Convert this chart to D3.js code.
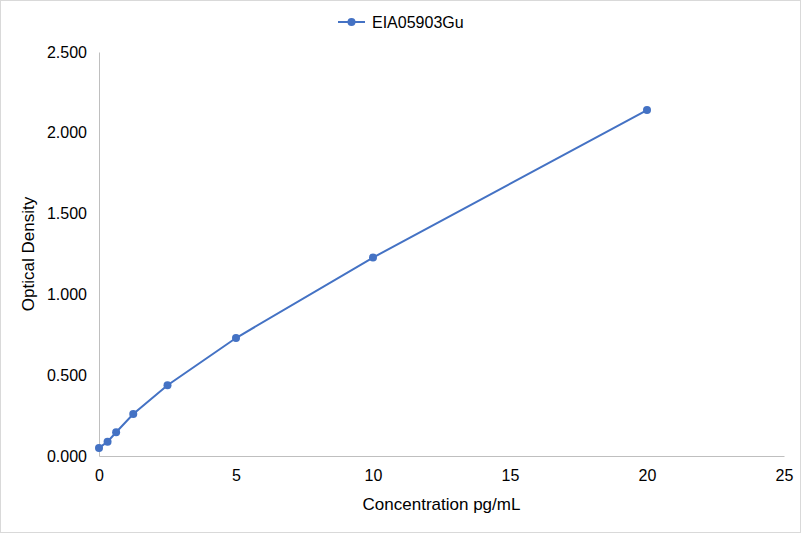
<!DOCTYPE html>
<html>
<head>
<meta charset="utf-8">
<script src="https://cdn.jsdelivr.net/npm/d3@7"></script>
<style>
  html, body { margin: 0; padding: 0; background: #fff; }
  svg { display: block; font-family: "Liberation Sans", Arial, sans-serif; }
</style>
</head>
<body>
<svg id="chart"></svg>
<script>
// Standard curve data
const seriesName = 'EIA05903Gu';
const concentrations = [0, 0.3125, 0.625, 1.25, 2.5, 5, 10, 20];
const densities = [0.050, 0.088, 0.147, 0.260, 0.438, 0.730, 1.228, 2.141];
const xTicks = [0, 5, 10, 15, 20, 25];
const yTicks = [0, 0.5, 1.0, 1.5, 2.0, 2.5];

const width = 801, height = 533;
const margin = { top: 52, right: 17, bottom: 77, left: 99 };
const color = '#4472c4';

const svg = d3.select('#chart')
  .attr('width', width)
  .attr('height', height);

// outer border
svg.append('rect')
  .attr('x', 0.5).attr('y', 0.5)
  .attr('width', width - 1).attr('height', height - 1)
  .attr('fill', '#fff')
  .attr('stroke', '#d9d9d9');

const x = d3.scaleLinear().domain([0, 25]).range([margin.left, width - margin.right]);
const y = d3.scaleLinear().domain([0, 2.5]).range([height - margin.bottom, margin.top]);

// x axis
const xAxis = svg.append('g')
  .attr('transform', `translate(0,${y(0)})`)
  .call(d3.axisBottom(x).tickValues(xTicks).tickSize(0).tickPadding(14).tickFormat(d3.format('d')));
xAxis.select('.domain').attr('stroke', '#bfbfbf');
xAxis.selectAll('text').attr('font-size', 16).attr('fill', '#000');

// y axis
const yAxis = svg.append('g')
  .attr('transform', `translate(${x(0)},0)`)
  .call(d3.axisLeft(y).tickValues(yTicks).tickSize(0).tickPadding(12).tickFormat(d3.format('.3f')));
yAxis.select('.domain').attr('stroke', '#bfbfbf');
yAxis.selectAll('text').attr('font-size', 16).attr('fill', '#000');

// axis titles
svg.append('text')
  .attr('x', (x(0) + x(25)) / 2)
  .attr('y', 510)
  .attr('text-anchor', 'middle')
  .attr('font-size', 17)
  .text('Concentration pg/mL');

svg.append('text')
  .attr('transform', `translate(34,${(y(0) + y(2.5)) / 2}) rotate(-90)`)
  .attr('text-anchor', 'middle')
  .attr('font-size', 17)
  .text('Optical Density');

// line + markers
const line = d3.line()
  .x((d, i) => x(concentrations[i]))
  .y(d => y(d));

svg.append('path')
  .datum(densities)
  .attr('fill', 'none')
  .attr('stroke', color)
  .attr('stroke-width', 2)
  .attr('d', line);

svg.append('g')
  .selectAll('circle')
  .data(densities)
  .join('circle')
  .attr('cx', (d, i) => x(concentrations[i]))
  .attr('cy', d => y(d))
  .attr('r', 4)
  .attr('fill', color);

// legend
const legend = svg.append('g').attr('transform', 'translate(338,22)');
legend.append('line')
  .attr('x1', 0).attr('x2', 27)
  .attr('stroke', color).attr('stroke-width', 2);
legend.append('circle')
  .attr('cx', 13.5).attr('r', 4).attr('fill', color);
legend.append('text')
  .attr('x', 34).attr('dy', '0.35em')
  .attr('font-size', 16)
  .text(seriesName);
</script>
</body>
</html>
